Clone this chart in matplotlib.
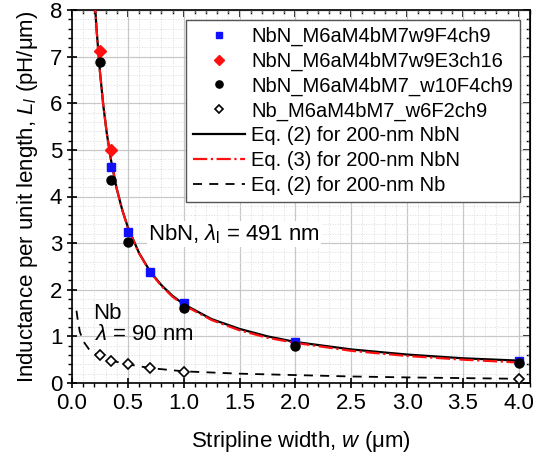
import matplotlib
matplotlib.use("Agg")
import matplotlib.pyplot as plt
from matplotlib.ticker import MultipleLocator, FormatStrFormatter, NullFormatter

plt.rcParams['font.family'] = ['Liberation Sans', 'DejaVu Sans']
plt.rcParams['mathtext.fontset'] = 'custom'
plt.rcParams['mathtext.rm'] = 'Liberation Sans'
plt.rcParams['mathtext.it'] = 'Liberation Sans:italic'

# measured points (w in um, L in pH/um)
w_blue = [0.35, 0.5, 0.7, 1.0, 2.0, 4.0]
L_blue = [4.63, 3.24, 2.39, 1.72, 0.88, 0.47]
w_red = [0.25, 0.35]
L_red = [7.13, 5.0]
w_black = [0.25, 0.35, 0.5, 1.0, 2.0, 4.0]
L_black = [6.88, 4.36, 3.03, 1.61, 0.80, 0.43]
w_nb = [0.25, 0.35, 0.5, 0.7, 1.0, 4.0]
L_nb = [0.59, 0.47, 0.40, 0.32, 0.24, 0.09]

# model curves
w_eq = [0.2, 0.22, 0.25, 0.28, 0.31, 0.35, 0.4, 0.45, 0.5, 0.6, 0.7, 0.8, 0.9,
        1.0, 1.25, 1.5, 1.75, 2.0, 2.5, 3.0, 3.5, 4.0]
L_eq2 = [8.35, 7.58, 6.68, 5.96, 5.38, 4.77, 4.17, 3.71, 3.34, 2.79, 2.39, 2.10,
         1.87, 1.69, 1.37, 1.16, 1.00, 0.88, 0.72, 0.61, 0.53, 0.48]
L_eq3 = [8.35, 7.58, 6.68, 5.96, 5.38, 4.77, 4.17, 3.71, 3.33, 2.78, 2.38, 2.08,
         1.85, 1.67, 1.35, 1.13, 0.97, 0.86, 0.69, 0.58, 0.50, 0.44]
w_nbeq = [0.04, 0.05, 0.07, 0.1, 0.15, 0.2, 0.25, 0.3, 0.35, 0.5, 0.7, 1.0,
          1.5, 2.0, 2.5, 3.0, 3.5, 4.0]
L_nbeq = [1.55, 1.38, 1.10, 0.90, 0.73, 0.64, 0.57, 0.52, 0.48, 0.40, 0.32,
          0.25, 0.20, 0.17, 0.14, 0.12, 0.105, 0.09]

fig = plt.figure(figsize=(5.35, 4.59), dpi=100)
ax = fig.add_axes([72/535, 1-383/459, 458/535, 373/459])

ax.plot(w_blue, L_blue, 's', color='#1010ff', ms=6, mec='#1010ff',
        label='NbN_M6aM4bM7w9F4ch9', zorder=5)
ax.plot(w_red, L_red, 'D', color='#ff1010', ms=6, label='NbN_M6aM4bM7w9E3ch16', zorder=5)
ax.plot(w_black, L_black, 'o', color='black', ms=6.5, label='NbN_M6aM4bM7_w10F4ch9', zorder=6)
ax.plot(w_nb, L_nb, 'D', mfc='white', mec='black', mew=1.2, ms=5.5,
        label='Nb_M6aM4bM7_w6F2ch9', zorder=6)
ax.plot(w_eq, L_eq2, '-', color='black', lw=1.6, label='Eq. (2) for 200-nm NbN', zorder=3)
ax.plot(w_eq, L_eq3, '-.', color='#ff1010', lw=1.6, label='Eq. (3) for 200-nm NbN', zorder=4)
ax.plot(w_nbeq, L_nbeq, '--', color='black', lw=1.3, dashes=(5, 4),
        label='Eq. (2) for 200-nm Nb', zorder=3)

ax.set_xlim(0, 4.1)
ax.set_ylim(0, 8)
ax.xaxis.set_major_locator(MultipleLocator(0.5))
ax.xaxis.set_minor_locator(MultipleLocator(0.1))
ax.yaxis.set_major_locator(MultipleLocator(1))
ax.yaxis.set_minor_locator(MultipleLocator(0.2))
ax.xaxis.set_major_formatter(FormatStrFormatter('%.1f'))

ax.grid(which='major', color='#c8c8c8', lw=0.9)
ax.grid(which='minor', color='#dcdcdc', lw=0.7, ls=':')
ax.set_axisbelow(True)

ax.tick_params(which='major', direction='inout', length=7, width=1.2, labelsize=16)
ax.tick_params(which='minor', direction='out', length=3, width=1.0)
for sp in ax.spines.values():
    sp.set_linewidth(1.2)

# inward ticks on the top and right frame
top = ax.secondary_xaxis('top')
top.xaxis.set_major_locator(MultipleLocator(0.5))
top.xaxis.set_minor_locator(MultipleLocator(0.1))
top.xaxis.set_major_formatter(NullFormatter())
top.tick_params(which='major', direction='in', length=5, width=1.2)
top.tick_params(which='minor', direction='in', length=3, width=1.0)
right = ax.secondary_yaxis('right')
right.yaxis.set_major_locator(MultipleLocator(1))
right.yaxis.set_minor_locator(MultipleLocator(0.2))
right.yaxis.set_major_formatter(NullFormatter())
right.tick_params(which='major', direction='in', length=5, width=1.2)
right.tick_params(which='minor', direction='in', length=3, width=1.0)

ax.set_xlabel('Stripline width, $\\mathit{w}$ (μm)', fontsize=16, labelpad=11)
ax.set_ylabel('Inductance per unit length, $\\mathit{L}_\\mathit{l}$ (pH/μm)', fontsize=16,
              labelpad=7)

ax.text(0.68, 3.2, 'NbN, $\\lambda_\\mathrm{l}$ = 491 nm', fontsize=16, va='center',
        bbox=dict(fc='white', ec='none', pad=1))
ax.text(0.19, 1.5, 'Nb', fontsize=16, va='center')
ax.text(0.2, 1.03, '$\\lambda$ = 90 nm', fontsize=16, va='center')

leg = ax.legend(loc='upper right', bbox_to_anchor=(0.979, 0.974), borderaxespad=0,
                fontsize=14.5, fancybox=False, framealpha=1, edgecolor='#555555',
                handlelength=2.6, handletextpad=0.3, labelspacing=0.28, borderpad=0.35,
                numpoints=1, markerscale=0.8)
leg.get_frame().set_linewidth(1.0)

fig.savefig('out.png', dpi=100)
